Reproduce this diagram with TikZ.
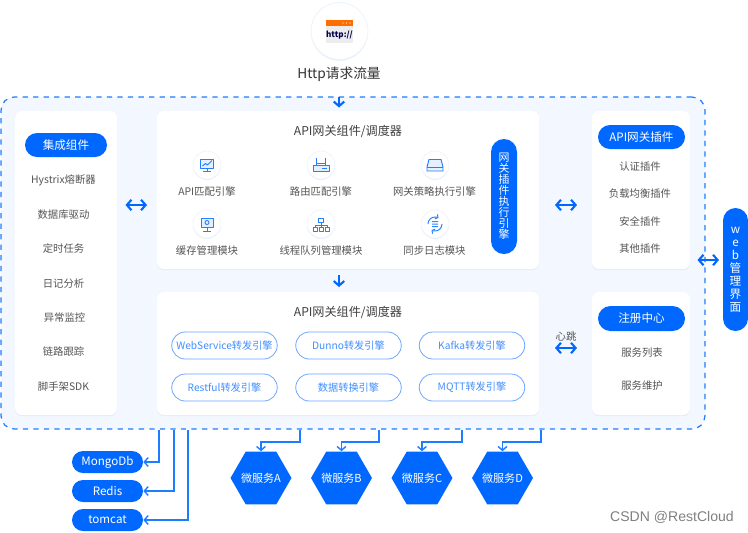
\documentclass[tikz,border=0pt]{standalone}
\usepackage{fontspec}
\setmainfont{Noto Sans CJK SC}
\newfontfamily\wmfont{Liberation Sans}
\usetikzlibrary{arrows.meta,shadows,shapes.geometric}
\definecolor{mainblue}{HTML}{0068FF}
\definecolor{dashblue}{HTML}{1C7DFF}
\definecolor{softblue}{HTML}{F3F7FF}
\definecolor{edgeblue}{HTML}{6AA5FF}
\definecolor{shadeblue}{HTML}{E3ECFB}
\definecolor{textgray}{HTML}{555555}
\tikzset{
	panel/.style n args={2}{fill=white, rounded corners=0.14cm, minimum width=#1*0.02cm, minimum height=#2*0.02cm, inner sep=0,
		drop shadow={fill=shadeblue, opacity=1, shadow xshift=0pt, shadow yshift=-0.7pt}},
	pill/.style n args={2}{fill=mainblue, text=white, rounded corners=#2*0.01cm, minimum width=#1*0.02cm, minimum height=#2*0.02cm, inner sep=0, font=\fontsize{6.6}{8}\selectfont},
	engine/.style={fill=white, draw=edgeblue, line width=0.45pt, text=mainblue!75!white, rounded corners=0.27cm, minimum width=2.11cm, minimum height=0.54cm, inner sep=0, font=\fontsize{5.8}{8}\selectfont},
	item/.style={text=textgray, inner sep=0, yshift=-0.5pt, font=\fontsize{5.9}{8}\selectfont},
	heading/.style={text=black!75, inner sep=0, yshift=-0.5pt, font=\fontsize{6.9}{8}\selectfont},
	iconball/.style={circle, fill=white, draw=shadeblue!60, line width=0.4pt, minimum size=0.56cm, inner sep=0,
		drop shadow={fill=shadeblue, opacity=1, shadow xshift=0pt, shadow yshift=-0.5pt}},
	hexa/.style={regular polygon, regular polygon sides=6, fill=mainblue, text=white, minimum size=1.22cm, inner sep=0, font=\fontsize{6.3}{8}\selectfont},
	flow/.style={draw=dashblue, line width=0.8pt, -{Straight Barb[length=2.2pt,width=5pt]}},
	both/.style={draw=mainblue, line width=1.2pt, {Straight Barb[length=2.6pt,width=6pt]}-{Straight Barb[length=2.6pt,width=6pt]}},
	down/.style={draw=mainblue, line width=1.2pt, -{Straight Barb[length=2.6pt,width=6pt]}},
	glyph/.style={draw=mainblue!85!white, line width=0.55pt, line join=round}
}

\begin{document}
\begin{tikzpicture}[x=0.02cm, y=-0.02cm]
	%%%%% START %%%%%
	\useasboundingbox (0, 0) rectangle (748, 532);

	% outer dashed box
	\node[fill=softblue, draw=dashblue, dashed, line width=0.7pt, rounded corners=0.26cm, minimum width=14.08cm, minimum height=6.64cm, inner sep=0] (gateway) at (353, 263) {};

	% http source
	\node[circle, fill=white, draw=shadeblue!60, line width=0.5pt, minimum size=1.14cm, inner sep=0, drop shadow={fill=shadeblue, opacity=1, shadow xshift=0pt, shadow yshift=-0.7pt}] (httpball) at (339.5, 31) {};
	\fill[black!7] (326, 20) rectangle (353, 43);
	\fill[orange!85!red] (326, 20) rectangle (353, 26);
	\fill[white] (343, 23) circle (0.7) (346.5, 23) circle (0.7) (350, 23) circle (0.7);
	\node[text=blue!30!black, inner sep=0, font=\fontsize{4.6}{5}\selectfont\bfseries] (httptag) at (339.5, 35) {http://};
	\node[text=black!80, inner sep=0, yshift=-0.3pt, font=\fontsize{7.8}{9}\selectfont] (httplabel) at (339, 74) {Http请求流量};

	% panels
	\node[panel={102}{304}] (toolbox) at (66, 263) {};
	\node[panel={382}{158}] (scheduler) at (348, 190) {};
	\node[panel={382}{123}] (forwarder) at (348, 353.5) {};
	\node[panel={98}{158}] (plugins) at (641, 190) {};
	\node[panel={98}{123}] (registry) at (641, 353.5) {};

	% left column
	\node[pill={82}{24}] (toolhead) at (66, 145) {集成组件};
	\node[item] (hystrix) at (63.5, 179) {Hystrix熔断器};
	\node[item] (dbdriver) at (63.5, 214) {数据库驱动};
	\node[item] (timer) at (63.5, 248) {定时任务};
	\node[item] (logs) at (63.5, 283) {日记分析};
	\node[item] (alarm) at (64.5, 317) {异常监控};
	\node[item] (trace) at (63.5, 351) {链路跟踪};
	\node[item] (sdk) at (63.5, 386) {脚手架SDK};

	% scheduler panel
	\node[heading] (schedtitle) at (348, 131) {API网关组件/调度器};
	\node[iconball] (iconA) at (207, 165) {};
	\node[iconball] (iconB) at (321, 165) {};
	\node[iconball] (iconC) at (435, 165) {};
	\node[iconball] (iconD) at (207, 224) {};
	\node[iconball] (iconE) at (321, 224) {};
	\node[iconball] (iconF) at (435, 224) {};
	\node[item] (labelA) at (207, 191) {API匹配引擎};
	\node[item] (labelB) at (321, 191) {路由匹配引擎};
	\node[item] (labelC) at (434.5, 191) {网关策略执行引擎};
	\node[item] (labelD) at (207, 250) {缓存管理模块};
	\node[item] (labelE) at (321, 250) {线程队列管理模块};
	\node[item] (labelF) at (434.5, 250) {同步日志模块};
	\node[pill={26}{115}, rounded corners=0.26cm, align=center, font=\fontsize{6.2}{6.25}\selectfont] (runner) at (504, 196.5) {网\\关\\插\\件\\执\\行\\引\\擎};

	% icon glyphs
	\draw[glyph, fill=mainblue!10] (200.5, 159) rectangle (213.5, 168);
	\draw[glyph] (202.5, 166) -- (205.5, 163.5) -- (207.5, 165) -- (212, 160.5);
	\draw[glyph] (207, 168) -- (207, 170.5) (203, 171) -- (211, 171);
	\draw[glyph, fill=mainblue!10] (313, 165) rectangle (329, 171);
	\draw[glyph] (316.5, 165) -- (316.5, 158) (325.5, 165) -- (325.5, 158) (316.5, 163) -- (325.5, 163);
	\draw[glyph] (322, 168) -- (327, 168);
	\draw[glyph, fill=mainblue!10] (429, 159.5) -- (441, 159.5) -- (443, 167) -- (443, 171) -- (427, 171) -- (427, 167) -- cycle;
	\draw[glyph] (427, 167) -- (443, 167);
	\draw[glyph, fill=mainblue!10] (201, 218) rectangle (213, 227);
	\draw[glyph] (207, 222.5) circle (2);
	\draw[glyph] (207, 227) -- (207, 230.5) (203, 231) -- (211, 231);
	\draw[glyph] (318.5, 218) rectangle (323.5, 222.5);
	\draw[glyph] (313.5, 227.5) rectangle (317, 231) (319.5, 227.5) rectangle (323, 231) (325.5, 227.5) rectangle (329, 231);
	\draw[glyph] (321, 222.5) -- (321, 227.5) (315, 227.5) -- (315, 225) -- (327, 225) -- (327, 227.5);
	\draw[glyph, -{Straight Barb[length=1.2pt,width=3pt]}] (428, 224) arc (180:300:7);
	\draw[glyph, -{Straight Barb[length=1.2pt,width=3pt]}] (442, 224) arc (0:120:7);
	\fill[mainblue!80!white] (432, 221) rectangle (438, 222) (432, 223.5) rectangle (438, 224.5) (432, 226) rectangle (438, 227);

	% forwarder panel
	\node[heading] (fwdtitle) at (348, 312) {API网关组件/调度器};
	\node[engine] (webservice) at (224.5, 345.5) {WebService转发引擎};
	\node[engine] (dunno) at (348.5, 345.5) {Dunno转发引擎};
	\node[engine] (kafka) at (472, 345.5) {Kafka转发引擎};
	\node[engine] (restful) at (224.5, 387.5) {Restful转发引擎};
	\node[engine] (convert) at (348.5, 387.5) {数据转换引擎};
	\node[engine] (mqtt) at (472, 387.5) {MQTT转发引擎};

	% right column
	\node[pill={87}{24}] (pluginhead) at (641.5, 137) {API网关插件};
	\node[item] (auth) at (640, 166) {认证插件};
	\node[item] (balance) at (640, 193) {负载均衡插件};
	\node[item] (secure) at (640, 221) {安全插件};
	\node[item] (others) at (640, 248) {其他插件};
	\node[pill={87}{25}] (registryhead) at (641.5, 318.5) {注册中心};
	\node[item] (svclist) at (642, 352) {服务列表};
	\node[item] (svcmaint) at (642, 385) {服务维护};
	\node[item] (heartlabel) at (566, 336) {心跳};

	% web console
	\node[pill={25}{123}, rounded corners=0.25cm, align=center, font=\fontsize{6.6}{7.37}\selectfont] (webui) at (735.5, 269.5) {w\\e\\b\\管\\理\\界\\面};

	% stores
	\node[pill={71}{22}] (mongo) at (107.5, 462) {MongoDb};
	\node[pill={71}{22}] (redis) at (107.5, 491) {Redis};
	\node[pill={71}{22}] (tomcat) at (107.5, 520) {tomcat};

	% micro services
	\node[hexa] (svcA) at (261, 478) {\makebox[0pt]{微服务A}};
	\node[hexa] (svcB) at (341.5, 478) {\makebox[0pt]{微服务B}};
	\node[hexa] (svcC) at (422, 478) {\makebox[0pt]{微服务C}};
	\node[hexa] (svcD) at (502.5, 478) {\makebox[0pt]{微服务D}};

	% free ends of the connectors
	\coordinate (inTop) at (339, 97);
	\coordinate (inEnd) at (339, 107.5);
	\coordinate (midTop) at (339, 275);
	\coordinate (midEnd) at (339, 287);
	\coordinate (bothAl) at (125.5, 205);
	\coordinate (bothAr) at (147, 205);
	\coordinate (bothBl) at (555, 205);
	\coordinate (bothBr) at (577, 205);
	\coordinate (bothCl) at (555, 348);
	\coordinate (bothCr) at (577, 348);
	\coordinate (bothDl) at (697.5, 260);
	\coordinate (bothDr) at (719, 260);
	\coordinate (outMongo) at (159, 430);
	\coordinate (outRedis) at (174, 430);
	\coordinate (outTomcat) at (188, 430);
	\coordinate (outA) at (300, 430);
	\coordinate (outB) at (379, 430);
	\coordinate (outC) at (462, 430);
	\coordinate (outD) at (541, 430);

	% connectors
	\draw[down] (inTop) -- (inEnd);
	\draw[down] (midTop) -- (midEnd);
	\draw[both] (bothAl) -- (bothAr);
	\draw[both] (bothBl) -- (bothBr);
	\draw[both] (bothCl) -- (bothCr);
	\draw[both] (bothDl) -- (bothDr);
	\draw[flow] (outMongo) |- (mongo.east);
	\draw[flow] (outRedis) |- (redis.east);
	\draw[flow] (outTomcat) |- (tomcat.east);
	\draw[flow] (outA) -- ++(0, 12) -| (svcA.north);
	\draw[flow] (outB) -- ++(0, 12) -| (svcB.north);
	\draw[flow] (outC) -- ++(0, 12) -| (svcC.north);
	\draw[flow] (outD) -- ++(0, 12) -| (svcD.north);

	\node[text=black!50, inner sep=0, font=\wmfont\fontsize{8}{10}\selectfont] (watermark) at (672, 517) {CSDN @RestCloud};
	%%%%% END %%%%%
\end{tikzpicture}
\end{document}
